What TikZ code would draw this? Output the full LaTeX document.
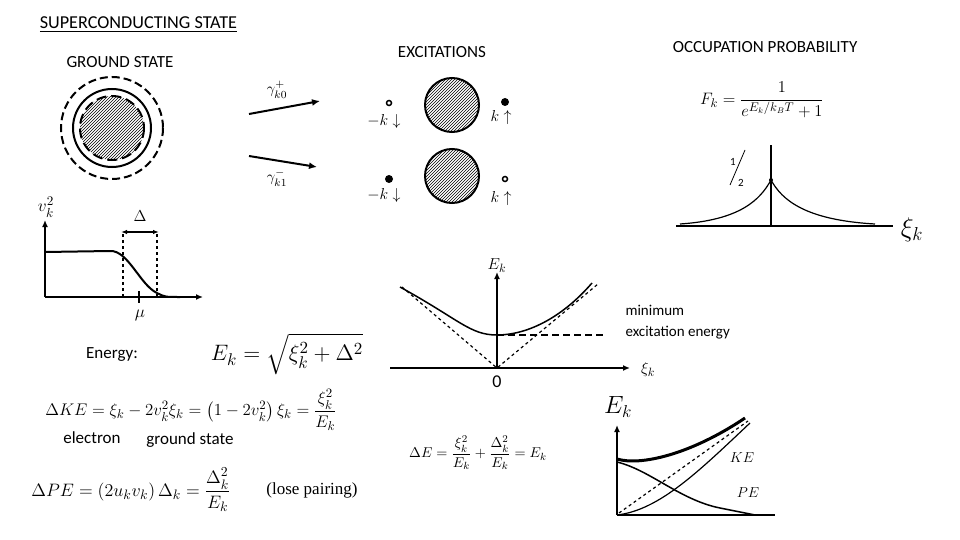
\documentclass[tikz,border=0pt]{standalone}
\usepackage{amsmath}
\usepackage{fontspec}
\setmainfont{Carlito}
\newfontfamily\serifx{Liberation Serif}
\usetikzlibrary{patterns,arrows.meta}
\begin{document}
\begin{tikzpicture}[x=1pt,y=-1pt,
  txt/.style={font=\fontsize{17}{20}\selectfont},
  mth/.style={font=\fontsize{15}{17}\selectfont},
  smth/.style={font=\fontsize{11}{13}\selectfont},
  ax/.style={line width=1.8pt,-{Latex[length=7pt,width=6pt]}},
  hatch/.style={line width=2pt,pattern=north east lines},
  dsh/.style={line width=1.2pt,dashed}]
\useasboundingbox (0,0) rectangle (960,540);
% titles
\node[txt,anchor=west,scale=1.07] (t1) at (36,25) {\underline{SUPERCONDUCTING STATE}};
\node[txt] (t2) at (120,62) {GROUND STATE};
\node[txt] (t3) at (442,52) {EXCITATIONS};
\node[txt] (t4) at (765,47) {OCCUPATION PROBABILITY};
% ground state
\fill[pattern=north east lines] (112,128) circle (32);
\draw[line width=2pt,dash pattern=on 10pt off 5pt] (112,128) circle (32);
\draw[line width=2pt] (112,128) circle (39);
\draw[line width=2pt,dash pattern=on 8pt off 4pt] (112,128) circle (51);
% arrows
\coordinate (a1s) at (249,114); \coordinate (a1e) at (320,101);
\coordinate (a2s) at (249,156); \coordinate (a2e) at (317,167);
\draw[line width=2pt,-{Latex[length=8pt,width=7pt]}] (a1s) -- (a1e);
\draw[line width=2pt,-{Latex[length=8pt,width=7pt]}] (a2s) -- (a2e);
\node[smth,scale=1.35] (g1) at (277,90) {$\gamma^{+}_{k0}$};
\node[smth,scale=1.35] (g2) at (277,178) {$\gamma^{-}_{k1}$};
% excitations
\draw[hatch] (452,105) circle (27);
\draw[hatch] (452,176) circle (27);
\draw[line width=1.5pt] (389,103) circle (2.5);
\fill (505,102) circle (4);
\fill (389,179) circle (4);
\draw[line width=1.5pt] (505,179) circle (2.5);
\node[mth,scale=1.1] (l1) at (384,122) {$-k\downarrow$};
\node[mth,scale=1.1] (l2) at (501,118) {$k\uparrow$};
\node[mth,scale=1.1] (l3) at (384,196) {$-k\downarrow$};
\node[mth,scale=1.1] (l4) at (501,199) {$k\uparrow$};
% v_k^2 plot
\coordinate (vo) at (45,297);
\draw[ax] (vo) -- (45,220);
\draw[ax] (vo) -- (203,297);
\node[mth,scale=1.2] (vl) at (46,207) {$v_k^2$};
\draw[line width=2pt] (45,252) -- (110,251) .. controls (128,250) and (140,285) .. (157,293) .. controls (165,297) .. (180,297);
\draw[dsh] (123,297) -- (123,233);
\draw[dsh] (157,297) -- (157,233);
\draw[line width=1.5pt,{Latex[length=6pt]}-{Latex[length=6pt]}] (121,232) -- (159,232);
\node[mth,scale=1.1] (dl) at (140,216) {$\Delta$};
\draw[line width=2pt] (139,291) -- (139,303);
\node[mth,scale=1.2] (mu) at (140,315) {$\mu$};
% occupation
\node[mth,scale=1.15] (ff) at (762,100) {$F_k=\dfrac{1}{e^{E_k/k_BT}+1}$};
\draw[line width=1.2pt] (676,226) -- (893,226);
\draw[line width=1.2pt] (771,226) -- (771,145);
\draw[line width=1.2pt] (680,224) .. controls (740,220) and (760,200) .. (771,180) .. controls (782,200) and (805,220) .. (875,224);
\fill (771,180) circle (2);
\draw[line width=0.8pt] (730,185) -- (745,150);
\node[smth] (h1) at (733,162) {1};
\node[smth] (h2) at (741,183) {2};
\node[font=\fontsize{22}{24}\selectfont,scale=1.3] (xk) at (912,230) {$\xi_k$};
% energy plot
\coordinate (eo) at (497,368);
\draw[ax] (390,368) -- (630,368);
\draw[ax] (eo) -- (497,272);
\node[mth,scale=1.1] (el) at (497,266) {$E_k$};
\node[mth,scale=1.1] (x2) at (648,370) {$\xi_k$};
\node[mth,scale=1.2] (zero) at (497,382) {0};
\draw[line width=1.5pt] (400,287) .. controls (460,320) and (470,335) .. (497,335) .. controls (525,335) and (560,320) .. (592,283);
\draw[dsh] (402,287) -- (eo) -- (598,284);
\draw[line width=2pt,dash pattern=on 7pt off 4pt] (497,335) -- (605,335);
\node[font=\fontsize{15}{21}\selectfont,anchor=west,align=left] (me) at (622,322) {minimum\\excitation energy};
% formulas
\node[txt] (en) at (112,355) {Energy:};
\node[mth,scale=1.55] (ek) at (287,354) {$E_k=\sqrt{\xi_k^2+\Delta^2}$};
\node[mth,scale=1.17] (ke) at (191,410) {$\Delta KE=\xi_k-2v_k^2\xi_k=\left(1-2v_k^2\right)\xi_k=\dfrac{\xi_k^2}{E_k}$};
\node[txt] (el1) at (92,438) {electron};
\node[txt] (el2) at (190,440) {ground state};
\node[mth,scale=1.25] (pe) at (131,490) {$\Delta PE=\left(2u_kv_k\right)\Delta_k=\dfrac{\Delta_k^2}{E_k}$};
\node[font=\fontsize{17}{19}\selectfont\serifx] (lp) at (312,490) {(lose pairing)};
\node[smth,scale=1.3] (de) at (478,453) {$\Delta E=\dfrac{\xi_k^2}{E_k}+\dfrac{\Delta_k^2}{E_k}=E_k$};
% bottom right plot
\coordinate (bo) at (617,515);
\draw[ax] (bo) -- (617,425);
\draw[line width=2pt] (bo) -- (775,515);
\node[font=\fontsize{20}{22}\selectfont,scale=1.2] (bl) at (618,407) {$E_k$};
\draw[line width=3pt] (617,459) .. controls (640,466) and (690,455) .. (745,418);
\draw[dsh] (619,513) -- (748,421);
\draw[line width=1.2pt] (617,515) .. controls (660,510) and (700,470) .. (750,423);
\draw[line width=1.5pt] (617,462) .. controls (650,470) and (680,500) .. (720,508) .. controls (740,512) .. (755,515);
\node[mth] (kel) at (742,458) {$KE$};
\node[mth] (pel) at (748,493) {$PE$};
\end{tikzpicture}
\end{document}
